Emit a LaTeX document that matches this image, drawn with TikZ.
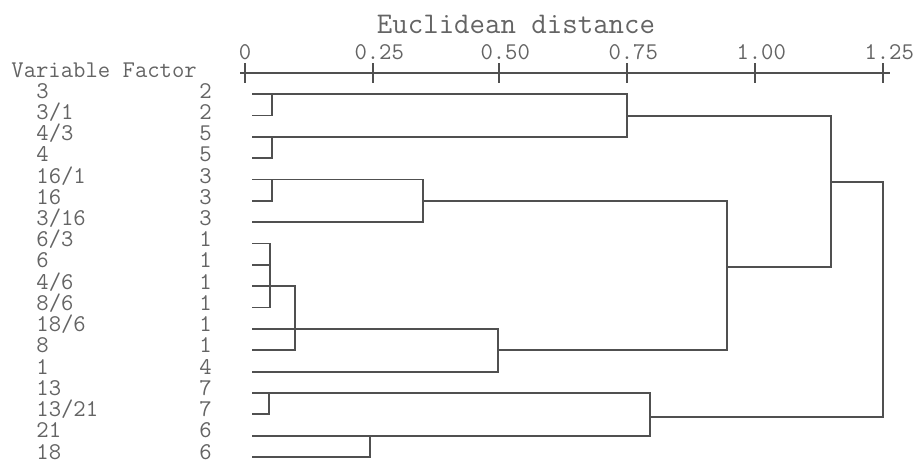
\documentclass[tikz,border=0pt]{standalone}
\usepackage{fontspec}
\usetikzlibrary{positioning}
\definecolor{treeline}{RGB}{80,80,80}
\definecolor{labelgray}{RGB}{100,100,100}
\tikzset{
    dendro/.style={draw=treeline, line width=0.9pt},
    axisline/.style={draw=treeline, line width=0.9pt},
    tickmark/.style={draw=treeline, line width=0.9pt},
    varlabel/.style={anchor=base west, inner sep=0pt, text=labelgray,
        font=\ttfamily\fontsize{12}{14}\selectfont},
    faclabel/.style={varlabel},
    ticklabel/.style={varlabel},
    titlelabel/.style={anchor=base, inner sep=0pt, text=labelgray,
        font=\ttfamily\fontsize{15}{17}\selectfont}
}

\begin{document}
\begin{tikzpicture}[x=0.5pt, y=-0.5pt]
\useasboundingbox (0,0) rectangle (915,462);

% axis
\node[titlelabel] (title) at (516,33) {Euclidean distance};
\coordinate (axL) at (240,73);
\coordinate (axR) at (890,73);
\draw[axisline] (axL) -- (axR);
\draw[tickmark] (245,63) -- (245,83);
\draw[tickmark] (373,63) -- (373,83);
\draw[tickmark] (499,63) -- (499,83);
\draw[tickmark] (627,63) -- (627,83);
\draw[tickmark] (755,63) -- (755,83);
\draw[tickmark] (883,63) -- (883,83);
\node[ticklabel, anchor=base] (tk0) at (245,59) {0};
\node[ticklabel] (tk25) at (354.1,59) {0.25};
\node[ticklabel] (tk50) at (480.1,59) {0.50};
\node[ticklabel] (tk75) at (608.1,59) {0.75};
\node[ticklabel] (tk100) at (736.1,59) {1.00};
\node[ticklabel] (tk125) at (864.1,59) {1.25};

% rows
\node[varlabel] (head) at (11,77) {Variable Factor};
\node[varlabel] (var1) at (36,98) {3};         \node[faclabel] (fac1) at (199,98) {2};      \coordinate (leaf1) at (252,94);
\node[varlabel] (var2) at (36,119.2) {3/1};    \node[faclabel] (fac2) at (199,119.2) {2};   \coordinate (leaf2) at (252,115.4);
\node[varlabel] (var3) at (36,140.5) {4/3};    \node[faclabel] (fac3) at (199,140.5) {5};   \coordinate (leaf3) at (252,136.7);
\node[varlabel] (var4) at (36,161.7) {4};      \node[faclabel] (fac4) at (199,161.7) {5};   \coordinate (leaf4) at (252,158.1);
\node[varlabel] (var5) at (36,183) {16/1};     \node[faclabel] (fac5) at (199,183) {3};     \coordinate (leaf5) at (252,179.4);
\node[varlabel] (var6) at (36,204.2) {16};     \node[faclabel] (fac6) at (199,204.2) {3};   \coordinate (leaf6) at (252,200.8);
\node[varlabel] (var7) at (36,225.4) {3/16};   \node[faclabel] (fac7) at (199,225.4) {3};   \coordinate (leaf7) at (252,222.1);
\node[varlabel] (var8) at (36,246.7) {6/3};    \node[faclabel] (fac8) at (199,246.7) {1};   \coordinate (leaf8) at (252,243.5);
\node[varlabel] (var9) at (36,267.9) {6};      \node[faclabel] (fac9) at (199,267.9) {1};   \coordinate (leaf9) at (252,264.8);
\node[varlabel] (var10) at (36,289.2) {4/6};   \node[faclabel] (fac10) at (199,289.2) {1};  \coordinate (leaf10) at (252,286.2);
\node[varlabel] (var11) at (36,310.4) {8/6};   \node[faclabel] (fac11) at (199,310.4) {1};  \coordinate (leaf11) at (252,307.5);
\node[varlabel] (var12) at (36,331.6) {18/6};  \node[faclabel] (fac12) at (199,331.6) {1};  \coordinate (leaf12) at (252,328.9);
\node[varlabel] (var13) at (36,352.9) {8};     \node[faclabel] (fac13) at (199,352.9) {1};  \coordinate (leaf13) at (252,350.2);
\node[varlabel] (var14) at (36,374.1) {1};     \node[faclabel] (fac14) at (199,374.1) {4};  \coordinate (leaf14) at (252,371.6);
\node[varlabel] (var15) at (36,395.4) {13};    \node[faclabel] (fac15) at (199,395.4) {7};  \coordinate (leaf15) at (252,392.9);
\node[varlabel] (var16) at (36,416.6) {13/21}; \node[faclabel] (fac16) at (199,416.6) {7};  \coordinate (leaf16) at (252,414.3);
\node[varlabel] (var17) at (36,437.8) {21};    \node[faclabel] (fac17) at (199,437.8) {6};  \coordinate (leaf17) at (252,435.6);
\node[varlabel] (var18) at (36,459) {18};      \node[faclabel] (fac18) at (199,459) {6};    \coordinate (leaf18) at (252,457);

% merge points
\coordinate (c1) at (272,94);
\coordinate (c2) at (272,136.7);
\coordinate (c3) at (272,179.4);
\coordinate (c4) at (270,286.2);
\coordinate (c5) at (269,392.9);
\coordinate (c6) at (370,435.6);
\coordinate (c7) at (295,328.9);
\coordinate (c8) at (423,201);
\coordinate (c9) at (498,350);
\coordinate (c10) at (627,116);
\coordinate (c11) at (650,417);
\coordinate (c12) at (727,267);
\coordinate (c13) at (831,182);
\coordinate (root) at (883,182);

% tree
\draw[dendro] (leaf1) -| (c1) |- (leaf2);
\draw[dendro] (leaf3) -| (c2) |- (leaf4);
\draw[dendro] (leaf5) -| (c3) |- (leaf6);
\draw[dendro] (leaf8) -| (c4) |- (leaf11);
\draw[dendro] (leaf9) -| (c4);
\draw[dendro] (leaf10) -| (c4);
\draw[dendro] (leaf15) -| (c5) |- (leaf16);
\draw[dendro] (leaf17) -| (c6) |- (leaf18);
\draw[dendro] (c4) -| (c7) |- (leaf13);
\draw[dendro] (leaf12) -| (c7);
\draw[dendro] (c3) -| (c8) |- (leaf7);
\draw[dendro] (c7) -| (c9) |- (leaf14);
\draw[dendro] (c1) -| (c10) |- (c2);
\draw[dendro] (c5) -| (c11) |- (c6);
\draw[dendro] (c8) -| (c12) |- (c9);
\draw[dendro] (c10) -| (c13) |- (c12);
\draw[dendro] (c13) -| (root) |- (c11);
\end{tikzpicture}
\end{document}
